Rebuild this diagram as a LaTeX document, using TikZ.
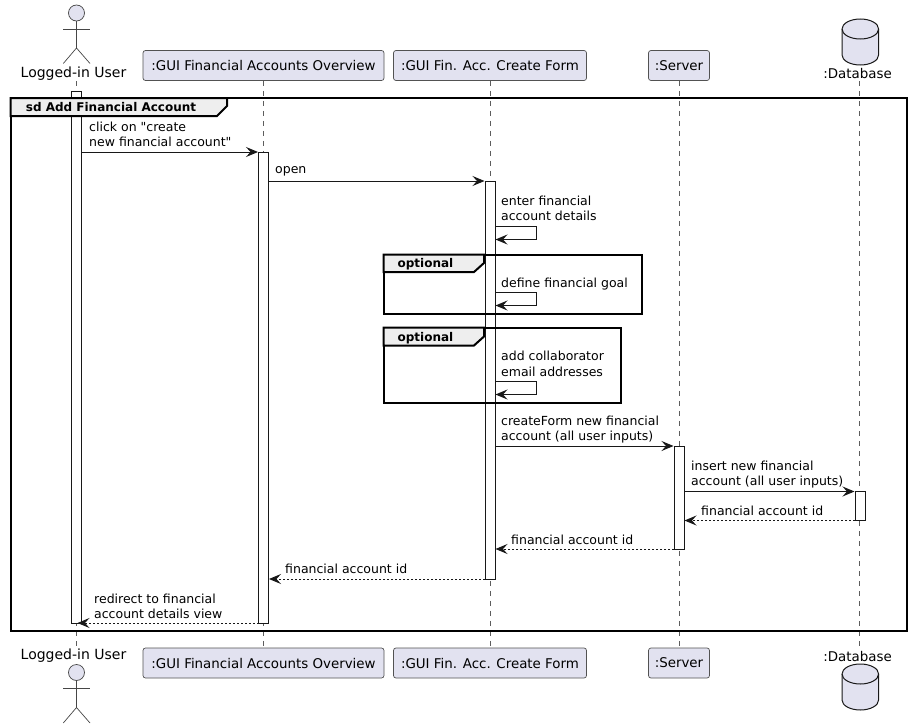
\documentclass[tikz,border=0pt]{standalone}
\usepackage{fontspec}
\setmainfont[Ligatures=TeXOff]{DejaVu Sans}
\usetikzlibrary{arrows.meta}
\definecolor{partfill}{HTML}{E2E2F0}
\definecolor{inkline}{HTML}{181818}
\definecolor{tabfill}{HTML}{EEEEEE}
\tikzset{
    partbox/.style={draw=inkline!75,fill=partfill,line width=0.7pt,rounded corners=2.5pt,inner sep=0pt,minimum height=30pt,font=\fontsize{13.4}{16}\selectfont},
    partname/.style={inner sep=0pt,font=\fontsize{13.4}{16}\selectfont},
    actorname/.style={inner sep=0pt,font=\fontsize{14}{16}\selectfont},
    lifeline/.style={draw=inkline!70,line width=0.6pt,dash pattern=on 5pt off 5pt},
    actbox/.style={draw=inkline,fill=white,line width=1pt,inner sep=0pt,minimum width=10pt},
    sdframe/.style={draw=black,line width=2pt,inner sep=0pt},
    sdtab/.style={draw=black,fill=tabfill,line width=2pt},
    tabtext/.style={inner sep=0pt,font=\bfseries\fontsize{12}{15}\selectfont},
    msg/.style={draw=inkline,line width=1pt,-{Stealth[length=12pt,width=10pt,inset=4.5pt]}},
    retmsg/.style={msg,dash pattern=on 2pt off 2pt},
    msgtext/.style={inner sep=0pt,anchor=north west,align=left,font=\fontsize{12.5}{15.7}\selectfont},
    stick/.style={draw=inkline!80,line width=0.7pt},
    dbfill/.style={draw=inkline,fill=partfill,line width=1pt},
}
\begin{document}
\begin{tikzpicture}[x=1pt,y=-1pt]
    \useasboundingbox (0,0) rectangle (911,728);
    % participants
    \node[actorname] (usertop) at (73.5,74) {Logged-in User};
    \node[actorname] (userbot) at (73.5,656) {Logged-in User};
    \node[partbox,minimum width=241pt] (overviewtop) at (263.5,65.5) {:GUI Financial Accounts Overview};
    \node[partbox,minimum width=241pt] (overviewbot) at (263.5,663) {:GUI Financial Accounts Overview};
    \node[partbox,minimum width=193pt] (formtop) at (490,65.5) {:GUI Fin. Acc. Create Form};
    \node[partbox,minimum width=193pt] (formbot) at (490,663) {:GUI Fin. Acc. Create Form};
    \node[partbox,minimum width=61pt] (servertop) at (679,65.5) {:Server};
    \node[partbox,minimum width=61pt] (serverbot) at (679,663) {:Server};
    \node[partname] (dbtop) at (857.5,74) {:Database};
    \node[partname] (dbbot) at (857.5,656) {:Database};
    % lifelines
    \coordinate (U1) at (76.5,81);
    \coordinate (U2) at (76.5,647);
    \coordinate (D1) at (859.5,81);
    \coordinate (D2) at (859.5,647);
    \draw[lifeline] (U1) -- (U2);
    \draw[lifeline] (overviewtop.south) -- (overviewbot.north);
    \draw[lifeline] (formtop.south) -- (formbot.north);
    \draw[lifeline] (servertop.south) -- (serverbot.north);
    \draw[lifeline] (D1) -- (D2);
    % actors
    \foreach \ty in {0,659.5}{
        \draw[stick,fill=partfill] (76.5,13+\ty) circle (8);
        \draw[stick] (76.5,21+\ty) -- (76.5,48+\ty);
        \draw[stick] (63,29+\ty) -- (90,29+\ty);
        \draw[stick] (63.3,63.5+\ty) -- (76.5,48+\ty) -- (90,63.5+\ty);
    }
    % databases
    \foreach \ty in {0,645}{
        \draw[dbfill] (842,29+\ty) -- (842,55+\ty) arc[start angle=180,end angle=0,x radius=18.3,y radius=10] -- (878.6,29+\ty) arc[start angle=0,end angle=-180,x radius=18.3,y radius=10] -- cycle;
        \draw[dbfill,fill=none] (842,29+\ty) arc[start angle=180,end angle=0,x radius=18.3,y radius=10];
    }
    % activations
    \node[actbox,minimum height=532pt] (actuser) at (76.5,357) {};
    \node[actbox,minimum height=471pt] (actoverview) at (263.5,387.5) {};
    \node[actbox,minimum height=398pt] (actform) at (490,380) {};
    \node[actbox,minimum height=103pt] (actserver) at (679,497.5) {};
    \node[actbox,minimum height=29pt] (actdb) at (860,506) {};
    % frames
    \node[sdframe,minimum width=896pt,minimum height=533pt] (mainframe) at (458.5,364.5) {};
    \draw[sdtab] (10.5,98) -- (227,98) -- (227,106) -- (217,116) -- (10.5,116) -- cycle;
    \node[tabtext] (maintab) at (111,107.5) {sd Add Financial Account};
    \node[sdframe,minimum width=258pt,minimum height=59pt] (optgoal) at (512.5,284) {};
    \draw[sdtab] (383.5,254.5) -- (484,254.5) -- (484,263) -- (474,272) -- (383.5,272) -- cycle;
    \node[tabtext] (goaltab) at (425.5,264) {optional};
    \node[sdframe,minimum width=237pt,minimum height=75pt] (optmail) at (502,365) {};
    \draw[sdtab] (383.5,327.5) -- (484,327.5) -- (484,336.5) -- (474,345.5) -- (383.5,345.5) -- cycle;
    \node[tabtext] (mailtab) at (425.5,338) {optional};
    % messages
    \coordinate (M1a) at (81.5,152);
    \coordinate (M1b) at (258,152);
    \coordinate (M2a) at (268.5,181);
    \coordinate (M2b) at (484.5,181);
    \coordinate (S1a) at (495,226.5);
    \coordinate (S1b) at (536.5,226.5);
    \coordinate (S1c) at (536.5,239.5);
    \coordinate (S1d) at (495.5,239.5);
    \coordinate (S2a) at (495,292.5);
    \coordinate (S2b) at (536.5,292.5);
    \coordinate (S2c) at (536.5,305.5);
    \coordinate (S2d) at (495.5,305.5);
    \coordinate (S3a) at (495,381.5);
    \coordinate (S3b) at (536.5,381.5);
    \coordinate (S3c) at (536.5,394.5);
    \coordinate (S3d) at (495.5,394.5);
    \coordinate (M3a) at (495,446);
    \coordinate (M3b) at (673.5,446);
    \coordinate (M4a) at (684,491.5);
    \coordinate (M4b) at (854.5,491.5);
    \coordinate (R1a) at (855,520.5);
    \coordinate (R1b) at (684.5,520.5);
    \coordinate (R2a) at (674,549);
    \coordinate (R2b) at (495.5,549);
    \coordinate (R3a) at (485,579);
    \coordinate (R3b) at (269,579);
    \coordinate (R4a) at (258.5,623);
    \coordinate (R4b) at (77.5,623);
    \draw[msg] (M1a) -- (M1b);
    \draw[msg] (M2a) -- (M2b);
    \draw[msg] (S1a) -- (S1b) -- (S1c) -- (S1d);
    \draw[msg] (S2a) -- (S2b) -- (S2c) -- (S2d);
    \draw[msg] (S3a) -- (S3b) -- (S3c) -- (S3d);
    \draw[msg] (M3a) -- (M3b);
    \draw[msg] (M4a) -- (M4b);
    \draw[retmsg] (R1a) -- (R1b);
    \draw[retmsg] (R2a) -- (R2b);
    \draw[retmsg] (R3a) -- (R3b);
    \draw[retmsg] (R4a) -- (R4b);
    % labels
    \node[msgtext] (t1) at (89,121.5) {click on "create\\new financial account"};
    \node[msgtext] (t2) at (275,166.5) {open};
    \node[msgtext] (t3) at (501,195.5) {enter financial\\account details};
    \node[msgtext] (t4) at (501,277.5) {define financial goal};
    \node[msgtext] (t5) at (501,351) {add collaborator\\email addresses};
    \node[msgtext] (t6) at (501,415.5) {createForm new financial\\account (all user inputs)};
    \node[msgtext] (t7) at (691,460.5) {insert new financial\\account (all user inputs)};
    \node[msgtext] (t8) at (701,505.5) {financial account id};
    \node[msgtext] (t9) at (511,534.5) {financial account id};
    \node[msgtext] (t10) at (285,563.5) {financial account id};
    \node[msgtext] (t11) at (94,593.5) {redirect to financial\\account details view};
\end{tikzpicture}
\end{document}
